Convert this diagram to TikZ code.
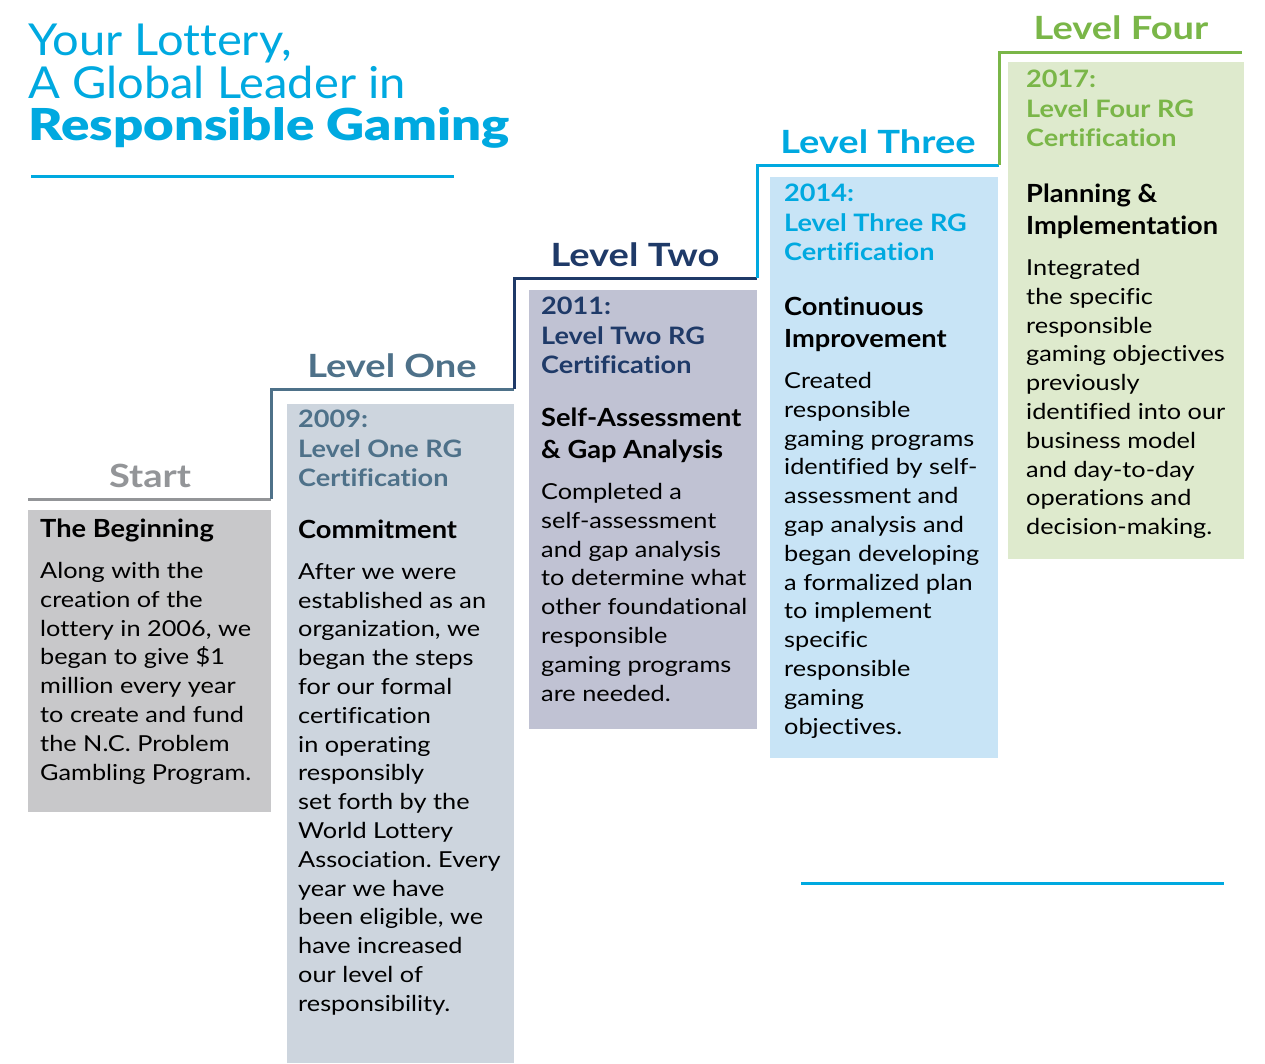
\documentclass[tikz,border=0pt]{standalone}
\usepackage{fontspec}
\setmainfont{Lato}[Ligatures=CommonOff]
\newfontfamily\bodyfont{Lato}[Ligatures=CommonOff,FakeStretch=1.15]
\newfontfamily\headfont{Lato}[Ligatures=CommonOff,FakeStretch=1.09]
\newfontfamily\tagfont{Lato}[Ligatures=CommonOff,FakeStretch=1.19]
\newfontfamily\yearfont{Lato}[Ligatures=CommonOff,FakeStretch=1.13]
\newfontfamily\titlefont{Lato}[Ligatures=CommonOff,FakeStretch=1.07]
\newfontfamily\blackfont{Lato Black}[Ligatures=CommonOff,FakeStretch=1.2]
\usetikzlibrary{positioning}
\frenchspacing
\definecolor{rgcyan}{HTML}{00A9E0}
\definecolor{rgnavy}{HTML}{1F3A68}
\definecolor{rgsteel}{HTML}{4E7189}
\definecolor{rggray}{HTML}{939598}
\definecolor{rggreen}{HTML}{7AB648}
\definecolor{boxstart}{HTML}{C8C8CA}
\definecolor{boxone}{HTML}{CDD5DE}
\definecolor{boxtwo}{HTML}{C0C2D3}
\definecolor{boxthree}{HTML}{C8E4F6}
\definecolor{boxfour}{HTML}{DEEACD}
\begin{document}
\begin{tikzpicture}[x=1pt,y=-1pt,
  levelbox/.style={anchor=north west, inner sep=0, outer sep=0},
  leveltag/.style={font=\fontsize{32}{36}\tagfont\bfseries},
  yeartext/.style={anchor=north west, inner sep=0, align=left, font=\fontsize{24}{29.5}\yearfont\bfseries},
  headtext/.style={anchor=north west, inner sep=0, align=left, font=\fontsize{25}{32}\headfont\bfseries},
  bodytext/.style={anchor=north west, inner sep=0, align=left, font=\fontsize{22}{28.8}\bodyfont\frenchspacing},
  stepline/.style={line width=3pt}]
\useasboundingbox (0,0) rectangle (1265,1063);

% title
\node[anchor=base west, inner sep=0, text=rgcyan, font=\fontsize{44}{44}\titlefont] (title1) at (28,55) {Your Lottery,};
\node[anchor=base west, inner sep=0, text=rgcyan, font=\fontsize{44}{44}\titlefont] (title2) at (28,98) {A Global Leader in};
\node[anchor=base west, inner sep=0, text=rgcyan, font=\fontsize{44}{44}\blackfont] (title3) at (28,140) {Responsible Gaming};
\coordinate (rule1a) at (31,176);
\coordinate (rule1b) at (454,176);
\path[draw,rgcyan,stepline] (rule1a) -- (rule1b);

% boxes
\node[levelbox, fill=boxstart, minimum width=243, minimum height=302] (b0) at (28,510) {};
\node[levelbox, fill=boxone, minimum width=227, minimum height=659] (b1) at (287,404) {};
\node[levelbox, fill=boxtwo, minimum width=228, minimum height=439] (b2) at (529,290) {};
\node[levelbox, fill=boxthree, minimum width=228, minimum height=581] (b3) at (770,177) {};
\node[levelbox, fill=boxfour, minimum width=236, minimum height=497] (b4) at (1008,62) {};

% steps
\coordinate (s0) at (28,499);
\coordinate (s1) at (271,499);
\coordinate (s2) at (271,389);
\coordinate (s3) at (514,389);
\coordinate (s4) at (514,278);
\coordinate (s5) at (757,278);
\coordinate (s6) at (757,165);
\coordinate (s7) at (999,165);
\coordinate (s8) at (999,52);
\coordinate (s9) at (1242,52);
\path[draw,rggray,stepline] (s0) -- (s1);
\path[draw,rgsteel,stepline] (s1) -- (s2) -- (s3);
\path[draw,rgnavy,stepline] (s3) -- (s4) -- (s5);
\path[draw,rgcyan,stepline] (s5) -- (s6) -- (s7);
\path[draw,rggreen,stepline] (s7) -- (s8) -- (s9);

% level names
\node[leveltag, text=rggray] (t0) at (150,476) {Start};
\node[leveltag, text=rgsteel] (t1) at (392,366) {Level One};
\node[leveltag, text=rgnavy] (t2) at (635,255) {Level Two};
\node[leveltag, text=rgcyan] (t3) at (878,142) {Level Three};
\node[leveltag, text=rggreen] (t4) at (1121,28) {Level Four};

% start
\node[headtext] (h0) at (40,519) {The Beginning};
\node[bodytext] (d0) at (40,562) {Along with the\\creation of the\\lottery in 2006, we\\began to give \$1\\million every year\\to create and fund\\the N.C. Problem\\Gambling Program.};

% level one
\node[yeartext, text=rgsteel] (y1) at (298,410) {2009:\\Level One RG\\Certification};
\node[headtext] (h1) at (298,520) {Commitment};
\node[bodytext] (d1) at (298,563) {After we were\\established as an\\organization, we\\began the steps\\for our formal\\certification\\in operating\\responsibly\\set forth by the\\World Lottery\\Association. Every\\year we have\\been eligible, we\\have increased\\our level of\\responsibility.};

% level two
\node[yeartext, text=rgnavy] (y2) at (541,297) {2011:\\Level Two RG\\Certification};
\node[headtext] (h2) at (541,408) {Self-Assessment\\\& Gap Analysis};
\node[bodytext] (d2) at (541,483) {Completed a\\self-assessment\\and gap analysis\\to determine what\\other foundational\\responsible\\gaming programs\\are needed.};

% level three
\node[yeartext, text=rgcyan] (y3) at (784,184) {2014:\\Level Three RG\\Certification};
\node[headtext] (h3) at (784,297) {Continuous\\Improvement};
\node[bodytext] (d3) at (784,372) {Created\\responsible\\gaming programs\\identified by self-\\assessment and\\gap analysis and\\began developing\\a formalized plan\\to implement\\specific\\responsible\\gaming\\objectives.};

% level four
\node[yeartext, text=rggreen] (y4) at (1026,70) {2017:\\Level Four RG\\Certification};
\node[headtext] (h4) at (1026,184) {Planning \&\\Implementation};
\node[bodytext] (d4) at (1026,259) {Integrated\\the specific\\responsible\\gaming objectives\\previously\\identified into our\\business model\\and day-to-day\\operations and\\decision-making.};

\coordinate (rule2a) at (801,883);
\coordinate (rule2b) at (1224,883);
\path[draw,rgcyan,stepline] (rule2a) -- (rule2b);
\end{tikzpicture}
\end{document}
